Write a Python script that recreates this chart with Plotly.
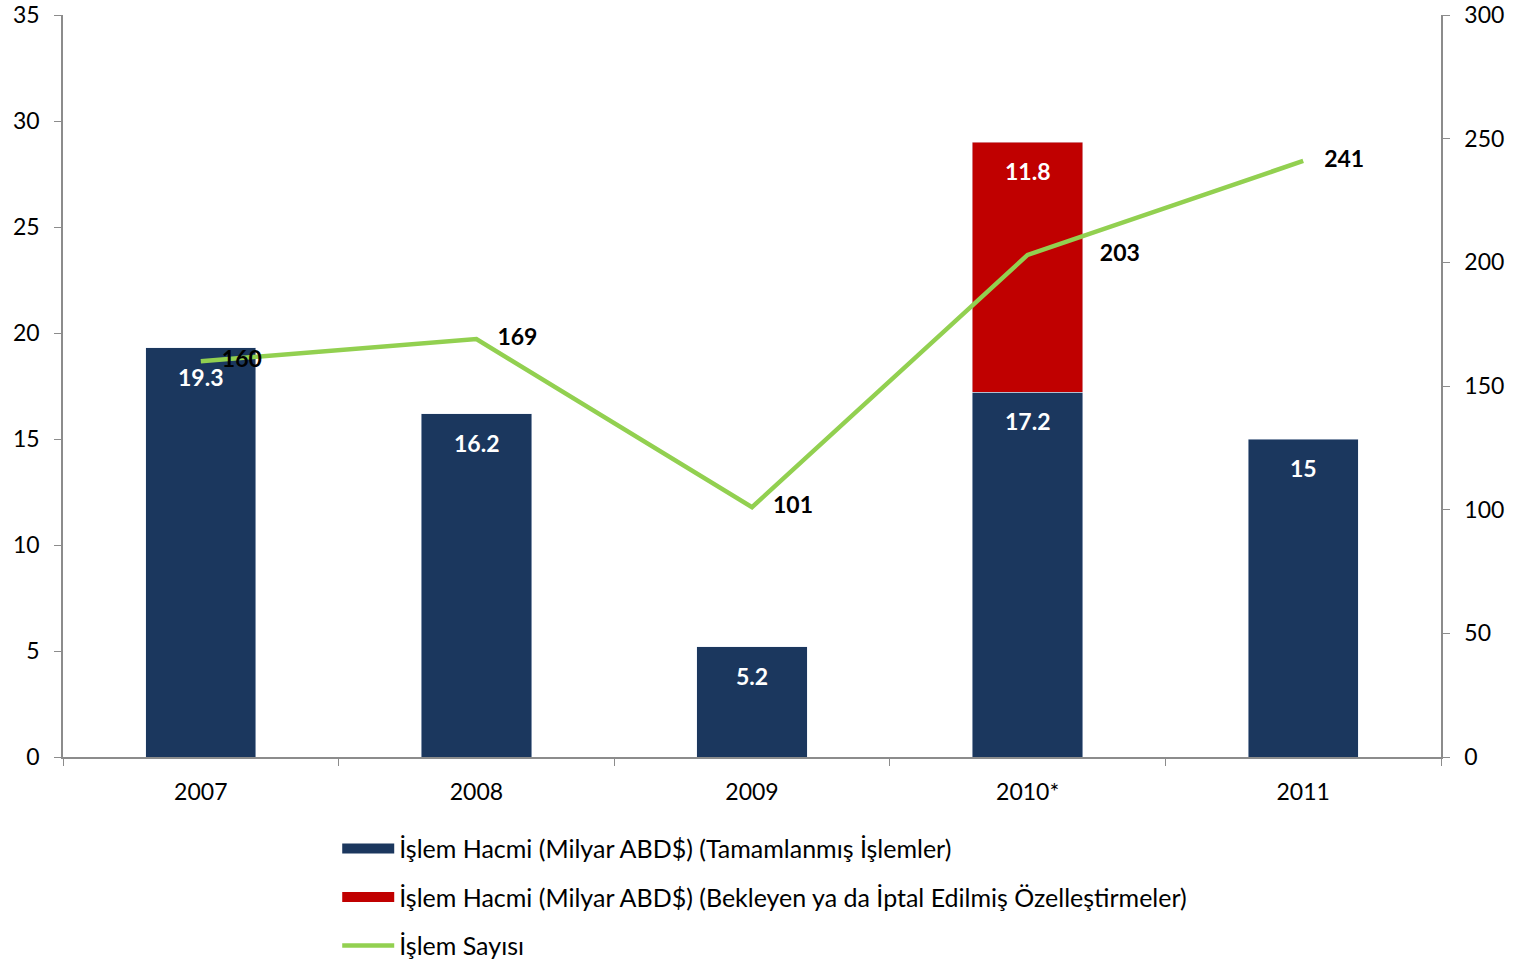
import plotly.graph_objects as go

years = ["2007", "2008", "2009", "2010*", "2011"]
completed = [19.3, 16.2, 5.2, 17.2, 15]
pending = [None, None, None, 11.8, None]
deal_count = [160, 169, 101, 203, 241]

name_completed = "İşlem Hacmi (Milyar ABD$) (Tamamlanmış İşlemler)"
name_pending = "İşlem Hacmi (Milyar ABD$) (Bekleyen ya da İptal Edilmiş Özelleştirmeler)"
name_count = "İşlem Sayısı"

FONT = "Lato, Open Sans, sans-serif"
AXIS = "#8C8C8C"
NAVY = "#1B375E"
RED = "#C00000"
GREEN = "#92D050"

fig = go.Figure()
fig.add_trace(go.Bar(x=years, y=completed, name=name_completed, marker_color=NAVY,
                     showlegend=False, hoverinfo="x+y"))
fig.add_trace(go.Bar(x=years, y=pending, name=name_pending, marker_color=RED,
                     showlegend=False, hoverinfo="x+y"))
fig.add_trace(go.Scatter(
    x=years, y=deal_count, name=name_count, yaxis="y2", mode="lines",
    line=dict(color=GREEN, width=4.5), showlegend=False,
))
# labels for the line, offset right of the points
label_sizes = [32 if v != 203 else 114 for v in deal_count]
fig.add_trace(go.Scatter(
    x=years, y=deal_count, yaxis="y2", mode="markers+text",
    marker=dict(size=label_sizes, color="rgba(0,0,0,0)", line=dict(width=0)),
    text=[str(v) for v in deal_count], textposition="middle right",
    textfont=dict(color="black", size=23, family=FONT, weight="bold"),
    showlegend=False, hoverinfo="skip", cliponaxis=False,
))

# legend swatches
for nm, col, w, grp in [(name_completed, NAVY, 18, "a"), (name_pending, RED, 18, "b"), (name_count, GREEN, 4.5, "c")]:
    fig.add_trace(go.Scatter(x=[years[0]], y=[None], mode="lines", name=nm,
                             line=dict(color=col, width=w), legendgroup=grp, hoverinfo="skip"))

# bar value labels (x given as category index)
top = [0.0] * len(years)
for series in (completed, pending):
    for i, v in enumerate(series):
        if v is None:
            continue
        top[i] += v
        fig.add_annotation(x=i, y=top[i], xref="x", yref="y", text=f"<b>{v:g}</b>", showarrow=False,
                           yshift=-29, font=dict(color="white", size=23, family=FONT))

fig.update_layout(
    width=1521, height=960,
    margin=dict(l=63, r=80, t=15, b=203, autoexpand=False),
    paper_bgcolor="white", plot_bgcolor="white",
    barmode="stack", bargap=0.6,
    font=dict(family=FONT, size=23, color="black"),
    showlegend=True,
    legend=dict(
        x=0.199, xanchor="left", y=-0.0926, yanchor="top",
        orientation="v", traceorder="grouped", tracegroupgap=13,
        font=dict(size=25, family=FONT), itemwidth=52,
    ),
    xaxis=dict(
        type="category", categoryorder="array", categoryarray=years,
        range=[-0.5, len(years) - 0.5],
        showline=True, linecolor=AXIS, linewidth=1.5,
        ticks="outside", tickson="boundaries", tickcolor=AXIS, ticklen=7,
        showgrid=False, tickfont=dict(size=23), automargin=False, tickangle=0,
        ticklabelstandoff=14,
    ),
    yaxis=dict(
        range=[0, 35], dtick=5, showline=True, linecolor=AXIS, linewidth=1.5,
        ticks="outside", tickcolor=AXIS, ticklen=7, showgrid=False, zeroline=False,
        tickfont=dict(size=23), automargin=False, ticklabeloverflow="allow",
        ticklabelstandoff=10,
    ),
    yaxis2=dict(
        range=[0, 300], dtick=50, overlaying="y", side="right",
        showline=True, linecolor=AXIS, linewidth=1.5,
        ticks="outside", tickcolor=AXIS, ticklen=7, showgrid=False, zeroline=False,
        tickfont=dict(size=23), automargin=False, ticklabeloverflow="allow",
        ticklabelstandoff=10,
    ),
)

fig.write_html("out.html", config={"displayModeBar": False},
               post_script="document.body.style.margin='0';")
